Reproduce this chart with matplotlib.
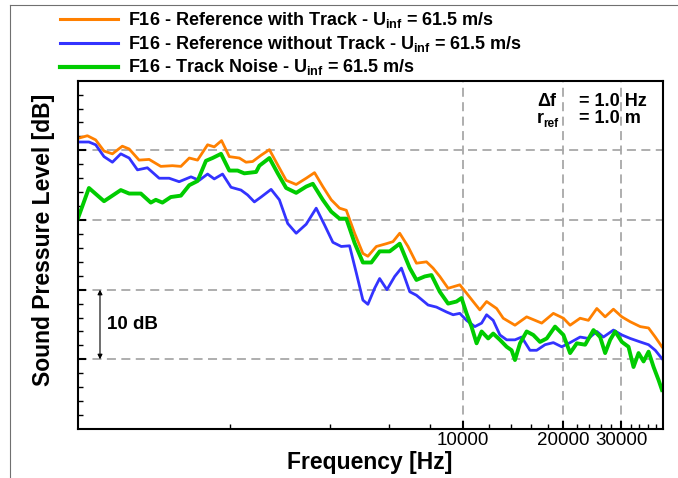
import matplotlib
matplotlib.use("Agg")
import matplotlib.pyplot as plt
from matplotlib.lines import Line2D

# --- data (frequency in Hz, SPL in dB, arbitrary offset) ---
freq_with = [697, 747, 791, 838, 888, 951, 997, 1068, 1145, 1241,
             1345, 1426, 1511, 1600, 1715, 1796, 1889, 1993, 2136, 2237,
             2342, 2483, 2630, 2786, 2953, 3165, 3392, 3593, 3805, 4034,
             4272, 4476, 4741, 5021, 5197, 5510, 5905, 6182, 6476, 6859,
             7270, 7793, 8155, 8544, 9050, 9814, 10280, 10760, 11270, 11810,
             12660, 13250, 14370, 15580, 17290, 18740, 20090, 21040, 22550, 23880,
             25310, 26810, 28390, 30100, 31880, 34170, 36200, 37920, 39720]
spl_with = [61.7, 62.1, 61.5, 59.9, 59.5, 60.6, 60.2, 58.6, 58.7, 57.7,
            57.8, 57.7, 58.9, 58.6, 60.8, 60.5, 61.4, 59.1, 58.9, 58.3,
            58.4, 59.3, 60.1, 57.9, 55.7, 55.1, 56.0, 56.8, 54.8, 52.9,
            51.7, 51.4, 48.1, 45.2, 44.8, 46.2, 46.6, 46.9, 48.1, 46.2,
            43.8, 44.0, 43.1, 41.9, 40.2, 40.7, 39.5, 38.3, 37.1, 38.3,
            37.3, 35.9, 34.9, 36.1, 35.2, 36.6, 35.9, 34.9, 35.9, 35.6,
            37.3, 36.1, 37.2, 36.1, 35.4, 34.7, 34.5, 33.2, 31.8]

freq_without = [697, 755, 791, 838, 888, 941, 997, 1056, 1131, 1227,
                1315, 1409, 1529, 1619, 1715, 1796, 1902, 2017, 2161, 2262,
                2370, 2483, 2661, 2818, 2985, 3165, 3392, 3635, 3850, 4079,
                4323, 4578, 4797, 5021, 5197, 5445, 5637, 5929, 6255, 6553,
                6942, 7270, 7880, 8350, 8951, 9370, 9814, 10280, 10890, 11410,
                11810, 12360, 12950, 13570, 14370, 15050, 15940, 16700, 17690, 18740,
                19860, 21040, 22550, 23880, 25310, 26490, 28390, 30100, 31880, 34170,
                36200, 37920, 39720]
spl_without = [61.2, 61.2, 60.8, 59.1, 58.3, 59.5, 58.9, 57.2, 57.5, 56.0,
               56.0, 55.5, 56.2, 55.7, 56.6, 55.9, 56.6, 54.7, 54.3, 53.6,
               52.6, 53.3, 54.4, 52.9, 49.5, 48.1, 49.4, 51.7, 49.3, 46.8,
               46.2, 46.3, 42.4, 38.5, 37.9, 40.2, 41.6, 40.0, 41.9, 43.1,
               39.7, 39.2, 37.8, 37.5, 36.8, 36.4, 36.6, 35.6, 34.7, 35.2,
               36.4, 35.6, 33.5, 32.8, 32.8, 33.2, 31.3, 31.3, 32.1, 32.4,
               31.8, 32.4, 33.2, 33.0, 34.0, 33.2, 34.2, 33.5, 33.0, 32.5,
               32.1, 31.3, 30.1]

freq_noise = [697, 755, 838, 941, 997, 1081, 1158, 1199, 1255, 1330,
              1426, 1511, 1600, 1696, 1775, 1882, 1993, 2111, 2211, 2399,
              2454, 2630, 2786, 2953, 3165, 3392, 3551, 3805, 4034, 4272,
              4476, 4741, 5021, 5322, 5637, 6042, 6476, 6942, 7270, 7701,
              8066, 8544, 9050, 9592, 9931, 10280, 10640, 11020, 11410, 11940,
              12360, 12950, 13570, 14040, 14370, 14880, 15580, 16310, 17090, 17900,
              18960, 20090, 21040, 22040, 23350, 24730, 25900, 26810, 27760, 28730,
              30100, 31510, 32620, 33780, 34970, 36200, 37480, 38810, 39720]
spl_noise = [50.0, 54.6, 52.7, 54.3, 53.8, 53.8, 52.5, 52.9, 52.5, 53.3,
             53.5, 55.0, 55.6, 58.5, 58.9, 59.5, 57.1, 57.1, 56.7, 56.9,
             57.8, 58.9, 56.7, 54.6, 53.9, 54.8, 55.2, 52.9, 51.2, 50.2,
             50.2, 46.7, 43.9, 43.9, 45.5, 45.5, 46.6, 43.1, 41.4, 41.9,
             42.1, 39.7, 38.0, 38.3, 38.8, 36.6, 34.7, 32.3, 34.0, 33.0,
             33.7, 32.8, 31.8, 31.3, 29.9, 32.3, 34.0, 33.5, 32.5, 33.0,
             34.7, 33.5, 30.9, 32.3, 32.1, 34.2, 33.2, 30.9, 32.8, 34.0,
             32.5, 31.8, 28.9, 30.9, 29.7, 31.1, 28.9, 27.0, 25.6]

labels = ["F16 - Reference with Track - U$_{inf}$ = 61.5 m/s",
          "F16 - Reference without Track - U$_{inf}$ = 61.5 m/s",
          "F16 - Track Noise - U$_{inf}$ = 61.5 m/s"]

x_major = [10000, 20000, 30000]
x_minor = [2000, 4000, 6000, 8000, 12000, 14000, 16000, 18000,
           22000, 24000, 26000, 28000, 32000, 34000, 36000, 38000]
y_major = [30, 40, 50, 60]
y_minor = [v for v in range(22, 70, 2) if v % 10 != 0]

ORANGE = "#FF8000"
BLUE = "#3333FF"
GREEN = "#00CC00"

plt.rcParams["font.family"] = ["Liberation Sans", "DejaVu Sans"]
plt.rcParams["mathtext.fontset"] = "custom"
for k in ("rm", "it", "bf"):
    plt.rcParams["mathtext." + k] = "Liberation Sans:bold"

W, H = 678, 478
fig = plt.figure(figsize=(W / 100, H / 100), dpi=100)


def fx(px):
    return px / W


def fy(py):
    return 1 - py / H


ax = fig.add_axes([fx(78), fy(429), fx(663) - fx(78), fy(80.7) - fy(429)])

series = [(freq_with, spl_with, ORANGE, 2.0),
          (freq_without, spl_without, BLUE, 2.0),
          (freq_noise, spl_noise, GREEN, 2.8)]
for f, s, c, lw in series:
    ax.plot(f, s, color=c, linewidth=lw)

ax.set_xscale("log")
ax.set_xlim(700, 40000)
ax.set_ylim(20, 70)
ax.set_xticks(x_major)
ax.set_xticklabels([str(v) for v in x_major], fontsize=13.5)
ax.set_xticks(x_minor, minor=True)
ax.set_xticklabels([], minor=True)
ax.set_yticks(y_major)
ax.set_yticklabels([])
ax.set_yticks(y_minor, minor=True)
ax.tick_params(which="major", direction="in", length=6, width=1.5, pad=2)
ax.tick_params(which="minor", direction="in", length=3.5, width=1.0)
ax.grid(True, which="major", color="#a8a8a8",
        linestyle=(0, (5, 3)), linewidth=1.3)
ax.set_axisbelow(True)
for sp in ax.spines.values():
    sp.set_linewidth(1.5)

# 10 dB scale arrow
tr = ax.get_yaxis_transform()
ax.annotate("", xy=(0.0376, 40), xytext=(0.0376, 30), xycoords=tr, textcoords=tr,
            arrowprops=dict(arrowstyle="<|-|>", color="black", lw=0.8,
                            mutation_scale=7, shrinkA=0, shrinkB=0))
ax.text(0.0496, 35, "10 dB", transform=tr, ha="left", va="center",
        fontsize=13.5, fontweight="bold")

# labels
fig.text(fx(44), fy(240), "Sound Pressure Level [dB]", rotation=90,
         ha="center", va="center", fontsize=16.5, fontweight="bold")
fig.text(fx(370), fy(469), "Frequency [Hz]", ha="center", va="baseline",
         fontsize=16.5, fontweight="bold")

# conditions box
fig.text(fx(537), fy(106), "\u0394f", fontsize=13, fontweight="bold")
fig.text(fx(579), fy(106), "= 1.0 Hz", fontsize=13, fontweight="bold")
fig.text(fx(537), fy(123), "r", fontsize=13, fontweight="bold")
fig.text(fx(543), fy(127), "ref", fontsize=8.5, fontweight="bold")
fig.text(fx(579), fy(123), "= 1.0 m", fontsize=13, fontweight="bold")

# legend above the plot
rows_y = [19, 43, 67]
for (f, s, c, lw), lab, y in zip(series, labels, rows_y):
    fig.add_artist(Line2D([fx(60), fx(118)], [fy(y), fy(y)], color=c,
                          linewidth=lw + 0.2))
    fig.text(fx(128), fy(y + 5.5), lab, ha="left", va="baseline", fontsize=13,
             fontweight="bold")

# outer frame
fig.add_artist(Line2D([fx(10), fx(10)], [0, fy(5)], color="#707070", linewidth=0.8))
fig.add_artist(Line2D([fx(10), 1], [fy(5), fy(5)], color="#707070", linewidth=0.8))

fig.savefig("out.png", dpi=100, facecolor="white")
